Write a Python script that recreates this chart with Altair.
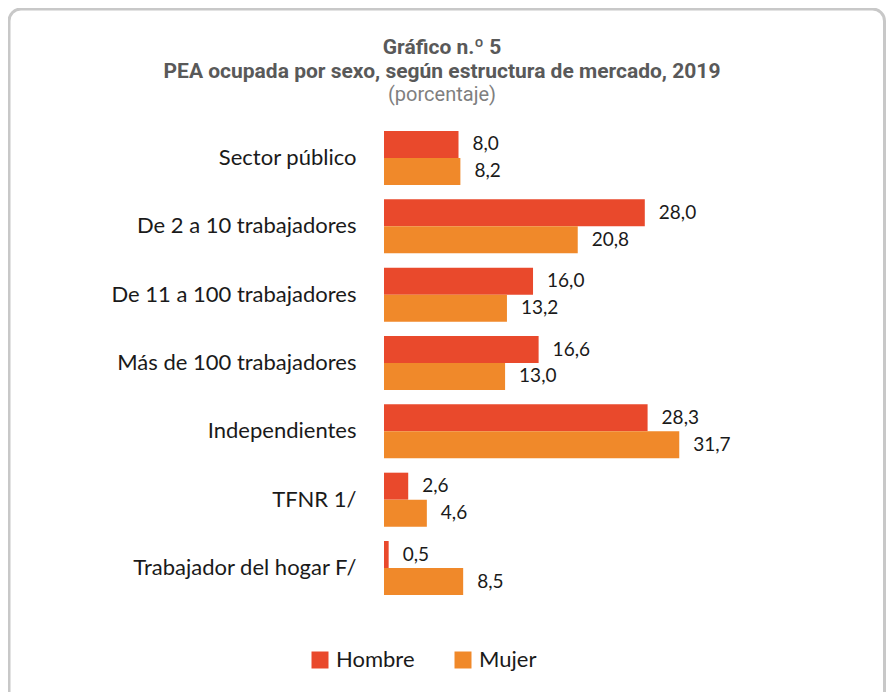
import altair as alt
import pandas as pd

categories = ["Sector público", "De 2 a 10 trabajadores", "De 11 a 100 trabajadores",
              "Más de 100 trabajadores", "Independientes", "TFNR 1/", "Trabajador del hogar F/"]
hombre = [8.0, 28.0, 16.0, 16.6, 28.3, 2.6, 0.5]
mujer = [8.2, 20.8, 13.2, 13.0, 31.7, 4.6, 8.5]
series = ["Hombre", "Mujer"]
colors = ["#E9492C", "#F0892A"]

rows = []
for c, h, m in zip(categories, hombre, mujer):
    for s, v in zip(series, [h, m]):
        rows.append({"cat": c, "sexo": s, "valor": v, "label": f"{v:.1f}".replace(".", ",")})
df = pd.DataFrame(rows)

W, H = 326, 464
PL, PT = 376, 123
TOTW, TOTH = 878, 684

y = alt.Y("cat:N", sort=categories,
          scale=alt.Scale(paddingInner=0.21, paddingOuter=0),
          axis=alt.Axis(title=None, domain=False, ticks=False, labelPadding=28,
                        labelFont="Lato", labelFontSize=22, labelColor="#1a1a1a",
                        labelLimit=400))
x = alt.X("valor:Q", scale=alt.Scale(domain=[0, 35]), axis=None)
yoff = alt.YOffset("sexo:N", sort=series)
color = alt.Color("sexo:N", sort=series,
                  scale=alt.Scale(domain=series, range=colors),
                  legend=alt.Legend(title=None, orient="none", direction="horizontal",
                                    legendX=-75, legendY=518, padding=0,
                                    symbolType="square", symbolSize=289,
                                    symbolStrokeWidth=0, symbolOpacity=1,
                                    labelFont="Lato", labelFontSize=22,
                                    labelColor="#1a1a1a", labelOffset=5,
                                    columnPadding=37))

border = alt.Chart(pd.DataFrame({"a": [0]})).mark_rect(
    fill="transparent", stroke="#c8c8c8", strokeWidth=3, cornerRadius=12
).encode(x=alt.value(-375), x2=alt.value(TOTW - PL - 1.5),
         y=alt.value(-122), y2=alt.value(640))

base = alt.Chart(df)
bars = base.mark_bar().encode(y=y, x=x, yOffset=yoff, color=color)
labels = base.mark_text(align="left", baseline="middle", dx=14, font="Lato",
                        fontSize=19, color="#1a1a1a").encode(
    y=alt.Y("cat:N", sort=categories), x="valor:Q", yOffset=yoff, text="label:N")

chart = alt.layer(border, bars, labels).properties(
    width=W, height=H, background="white",
    title=alt.TitleParams(
        text=["Gráfico n.º 5", "PEA ocupada por sexo, según estructura de mercado, 2019"],
        subtitle="(porcentaje)",
        font="Roboto", fontSize=21, fontWeight="bold", color="#595959",
        subtitleFont="Roboto", subtitleFontSize=20, subtitleColor="#7f7f7f",
        lineHeight=24, subtitlePadding=3, anchor="middle", frame="group",
        dx=-105, offset=-97),
    autosize=alt.AutoSizeParams(type="none"),
    padding={"left": PL, "top": PT, "right": TOTW - PL - W, "bottom": TOTH - PT - H},
).configure_view(stroke="transparent", strokeWidth=0)

chart.save("out.html", embed_options={"renderer": "svg", "actions": False})
